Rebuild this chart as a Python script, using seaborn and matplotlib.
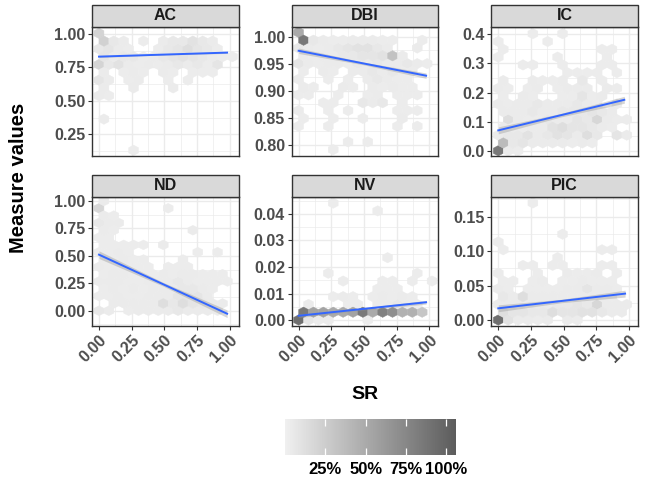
import numpy as np
import pandas as pd
import matplotlib
matplotlib.use("Agg")
import matplotlib.pyplot as plt
from matplotlib.colors import LinearSegmentedColormap, Normalize
from matplotlib.cm import ScalarMappable
from matplotlib.patches import Rectangle
from matplotlib.ticker import FixedLocator, FormatStrFormatter
import seaborn as sns

# ---------------------------------------------------------------------------
# Hexagon cells per measure: one entry per lattice row (row value), the SR
# centres of the occupied cells in that row and their share of the maximum count
# ---------------------------------------------------------------------------
measures = ["AC", "DBI", "IC", "ND", "NV", "PIC"]

ac_row_y = [1.005, 0.947, 0.889, 0.830, 0.772, 0.714, 0.656, 0.598, 0.539, 0.365, 0.132]
ac_row_x = [
    [0.0],
    [0.038, 0.113, 0.189, 0.340, 0.491, 0.567, 0.643, 0.718, 0.794, 0.870],
    [0.0, 0.076, 0.151, 0.227, 0.454, 0.529, 0.605, 0.680, 0.756, 0.832, 0.907],
    [0.038, 0.113, 0.189, 0.265, 0.340, 0.416, 0.491, 0.567, 0.643, 0.718, 0.794, 0.870, 0.945, 1.021],
    [0.0, 0.076, 0.151, 0.227, 0.302, 0.378, 0.454, 0.529, 0.605, 0.680, 0.756, 0.832, 0.907],
    [0.038, 0.189, 0.265, 0.340, 0.491, 0.567, 0.718, 0.794, 0.870],
    [0.0, 0.076, 0.227, 0.302, 0.529, 0.680],
    [0.038, 0.265, 0.567],
    [0.0, 0.076],
    [0.038],
    [0.265],
]
ac_row_v = [
    [0.20],
    [0.22, 0.06, 0.04, 0.03, 0.04, 0.06, 0.06, 0.10, 0.06, 0.04],
    [0.06, 0.08, 0.04, 0.03, 0.03, 0.06, 0.08, 0.13, 0.08, 0.06, 0.03],
    [0.08, 0.04, 0.06, 0.06, 0.03, 0.04, 0.06, 0.08, 0.10, 0.08, 0.06, 0.04, 0.03, 0.03],
    [0.20, 0.06, 0.10, 0.04, 0.03, 0.04, 0.03, 0.04, 0.06, 0.04, 0.06, 0.03, 0.08],
    [0.04, 0.03, 0.04, 0.03, 0.04, 0.03, 0.03, 0.03, 0.03],
    [0.08, 0.04, 0.03, 0.04, 0.03, 0.03],
    [0.04, 0.04, 0.04],
    [0.04, 0.03],
    [0.04],
    [0.03],
]

dbi_row_y = [1.008, 0.994, 0.979, 0.965, 0.950, 0.936, 0.921, 0.907, 0.892, 0.878,
             0.864, 0.849, 0.835, 0.806, 0.791]
dbi_row_x = [
    [0.0],
    [0.038, 0.113, 0.189, 0.265, 0.340, 0.416, 0.491, 0.567, 0.643, 0.718, 0.945],
    [0.0, 0.076, 0.151, 0.227, 0.302, 0.378, 0.454, 0.529, 0.605, 0.680, 0.907],
    [0.038, 0.113, 0.189, 0.265, 0.340, 0.416, 0.491, 0.567, 0.643, 0.718, 0.794],
    [0.0, 0.076, 0.151, 0.227, 0.302, 0.378, 0.454, 0.529, 0.605, 0.680, 0.756, 0.832, 0.907, 0.983],
    [0.038, 0.189, 0.265, 0.416, 0.491, 0.567, 0.643, 0.718, 0.794, 0.870],
    [0.0, 0.227, 0.378, 0.529, 0.605, 0.680, 0.756, 0.832],
    [0.038, 0.113, 0.340, 0.416, 0.567, 0.643, 0.718, 0.794, 0.870],
    [0.0, 0.076, 0.302, 0.529, 0.605, 0.756, 0.832, 0.907],
    [0.189, 0.265, 0.491, 0.567, 0.643, 0.794],
    [0.0, 0.227, 0.378, 0.756, 0.832, 0.907],
    [0.038, 0.265, 0.491, 0.794],
    [0.0, 0.227, 0.756, 0.907],
    [0.378, 0.529],
    [0.265],
]
dbi_row_v = [
    [0.50],
    [0.86, 0.06, 0.04, 0.03, 0.03, 0.04, 0.04, 0.04, 0.03, 0.03, 0.03],
    [0.06, 0.04, 0.03, 0.04, 0.06, 0.08, 0.10, 0.10, 0.06, 0.04, 0.04],
    [0.04, 0.03, 0.04, 0.04, 0.06, 0.06, 0.08, 0.08, 0.10, 0.33, 0.04],
    [0.08, 0.04, 0.03, 0.04, 0.04, 0.03, 0.06, 0.04, 0.06, 0.04, 0.04, 0.06, 0.04, 0.03],
    [0.03, 0.04, 0.03, 0.04, 0.04, 0.06, 0.04, 0.06, 0.03, 0.03],
    [0.04, 0.03, 0.03, 0.04, 0.06, 0.04, 0.03, 0.03],
    [0.04, 0.03, 0.04, 0.03, 0.04, 0.03, 0.04, 0.03, 0.03],
    [0.03, 0.03, 0.03, 0.03, 0.04, 0.03, 0.03, 0.03],
    [0.03, 0.03, 0.06, 0.04, 0.06, 0.03],
    [0.04, 0.03, 0.03, 0.03, 0.03, 0.03],
    [0.03, 0.03, 0.03, 0.04],
    [0.03, 0.03, 0.03, 0.03],
    [0.03, 0.03],
    [0.03],
]

ic_row_y = [0.0, 0.027, 0.054, 0.080, 0.107, 0.134, 0.161, 0.188, 0.214, 0.241,
            0.268, 0.295, 0.322, 0.348, 0.375, 0.402]
ic_row_x = [
    [0.0, 0.076, 0.151],
    [0.038, 0.113, 0.189, 0.265, 0.340, 0.416, 0.491, 0.567, 0.643, 0.718],
    [0.0, 0.076, 0.151, 0.227, 0.302, 0.378, 0.454, 0.529, 0.605, 0.680, 0.756, 0.907, 0.983],
    [0.038, 0.113, 0.189, 0.265, 0.340, 0.416, 0.491, 0.567, 0.643, 0.718, 0.794, 0.870],
    [0.076, 0.151, 0.227, 0.302, 0.378, 0.454, 0.529, 0.605, 0.680, 0.756, 0.832, 0.907, 0.983],
    [0.038, 0.113, 0.189, 0.265, 0.340, 0.416, 0.491, 0.567, 0.643, 0.718, 0.794, 0.870],
    [0.0, 0.076, 0.151, 0.227, 0.302, 0.378, 0.454, 0.529, 0.605, 0.680, 0.756, 0.907],
    [0.038, 0.189, 0.265, 0.491, 0.567, 0.643, 0.718, 0.794],
    [0.0, 0.076, 0.227, 0.302, 0.454, 0.529, 0.605, 0.680, 0.832, 0.907],
    [0.038, 0.265, 0.340, 0.416, 0.491, 0.643, 0.794],
    [0.529, 0.605, 0.680, 0.756, 0.907],
    [0.189, 0.265, 0.491, 0.794, 0.870],
    [0.0, 0.454, 0.832],
    [0.038, 0.794, 0.870],
    [0.0, 0.378],
    [0.265, 0.491],
]
ic_row_v = [
    [0.85, 0.04, 0.03],
    [0.38, 0.06, 0.08, 0.04, 0.04, 0.04, 0.04, 0.03, 0.04, 0.03],
    [0.04, 0.06, 0.06, 0.10, 0.04, 0.06, 0.10, 0.08, 0.04, 0.13, 0.06, 0.08, 0.04],
    [0.04, 0.04, 0.03, 0.04, 0.04, 0.10, 0.13, 0.08, 0.08, 0.06, 0.04, 0.03],
    [0.13, 0.04, 0.03, 0.03, 0.06, 0.04, 0.04, 0.08, 0.06, 0.18, 0.04, 0.03, 0.03],
    [0.04, 0.04, 0.04, 0.06, 0.04, 0.04, 0.06, 0.06, 0.06, 0.08, 0.06, 0.04],
    [0.04, 0.03, 0.04, 0.04, 0.06, 0.04, 0.04, 0.04, 0.06, 0.04, 0.03, 0.03],
    [0.03, 0.04, 0.03, 0.03, 0.03, 0.08, 0.03, 0.04],
    [0.04, 0.03, 0.03, 0.04, 0.03, 0.04, 0.04, 0.04, 0.04, 0.03],
    [0.04, 0.04, 0.03, 0.03, 0.04, 0.06, 0.03],
    [0.03, 0.03, 0.03, 0.03, 0.03],
    [0.03, 0.03, 0.03, 0.03, 0.03],
    [0.03, 0.03, 0.03],
    [0.03, 0.03, 0.03],
    [0.03, 0.03],
    [0.03, 0.03],
]

nd_row_y = [0.0, 0.067, 0.133, 0.200, 0.267, 0.333, 0.400, 0.467, 0.533, 0.600,
            0.667, 0.733, 0.800, 0.867, 0.933, 1.000]
nd_row_x = [
    [0.0, 0.076, 0.227, 0.302, 0.378, 0.454, 0.529, 0.605, 0.680, 0.756, 0.832, 0.907],
    [0.113, 0.189, 0.265, 0.340, 0.416, 0.491, 0.567, 0.643, 0.718, 0.794, 0.870, 0.945],
    [0.0, 0.076, 0.151, 0.227, 0.302, 0.378, 0.454, 0.529, 0.605, 0.680, 0.756, 0.832],
    [0.038, 0.113, 0.189, 0.265, 0.340, 0.416, 0.491, 0.567, 0.643, 0.718, 0.794, 0.870],
    [0.0, 0.076, 0.151, 0.227, 0.302, 0.378, 0.454, 0.529, 0.605, 0.680, 0.756, 0.832, 0.907, 0.983],
    [0.038, 0.113, 0.189, 0.265, 0.340, 0.416, 0.491, 0.567, 0.643, 0.718, 0.794, 0.870, 0.945],
    [0.0, 0.076, 0.151, 0.227, 0.302, 0.378, 0.529, 0.605, 0.680],
    [0.038, 0.113, 0.189, 0.265, 0.340, 0.643],
    [0.0, 0.076, 0.151, 0.227, 0.756, 0.907],
    [0.038, 0.113, 0.189, 0.265, 0.340, 0.491],
    [0.0, 0.076],
    [0.038, 0.113, 0.718],
    [0.0, 0.076, 0.151],
    [0.038, 0.113],
    [0.0, 0.529],
    [0.038],
]
nd_row_v = [
    [0.06, 0.04, 0.03, 0.04, 0.04, 0.04, 0.04, 0.06, 0.04, 0.04, 0.04, 0.03],
    [0.04, 0.04, 0.04, 0.04, 0.04, 0.13, 0.06, 0.13, 0.08, 0.06, 0.04, 0.04],
    [0.03, 0.03, 0.04, 0.03, 0.03, 0.04, 0.04, 0.04, 0.08, 0.08, 0.08, 0.04],
    [0.03, 0.04, 0.03, 0.04, 0.03, 0.04, 0.04, 0.04, 0.06, 0.06, 0.04, 0.03],
    [0.04, 0.04, 0.04, 0.03, 0.03, 0.04, 0.04, 0.04, 0.06, 0.04, 0.03, 0.03, 0.03, 0.03],
    [0.03, 0.04, 0.04, 0.03, 0.03, 0.03, 0.04, 0.03, 0.04, 0.04, 0.03, 0.03, 0.03],
    [0.04, 0.03, 0.03, 0.03, 0.03, 0.03, 0.03, 0.03, 0.03],
    [0.03, 0.03, 0.04, 0.03, 0.03, 0.03],
    [0.03, 0.03, 0.04, 0.03, 0.03, 0.03],
    [0.03, 0.03, 0.03, 0.03, 0.03, 0.04],
    [0.03, 0.03],
    [0.04, 0.03, 0.04],
    [0.06, 0.04, 0.04],
    [0.04, 0.03],
    [0.18, 0.03],
    [0.04],
]

nv_row_y = [0.0, 0.00294, 0.00588, 0.00882, 0.01176, 0.01470, 0.01764, 0.02352, 0.04116, 0.04410]
nv_row_x = [
    [0.0, 0.076, 0.151, 0.227, 0.529],
    [0.038, 0.113, 0.189, 0.265, 0.340, 0.416, 0.491, 0.567, 0.643, 0.718, 0.794, 0.870, 0.945],
    [0.076, 0.378, 0.454, 0.605, 0.680, 0.756, 0.832, 0.907],
    [0.265, 0.340, 0.416, 0.567, 0.643, 0.718, 0.794, 0.870],
    [0.605, 0.680, 0.756],
    [0.340, 0.643, 0.718, 0.870, 1.021],
    [0.227, 0.907],
    [0.680],
    [0.605],
    [0.265],
]
nv_row_v = [
    [0.92, 0.08, 0.04, 0.04, 0.03],
    [0.85, 0.55, 0.55, 0.50, 0.50, 0.55, 0.85, 0.50, 0.80, 0.70, 0.45, 0.45, 0.30],
    [0.04, 0.03, 0.03, 0.04, 0.04, 0.06, 0.04, 0.03],
    [0.03, 0.04, 0.03, 0.03, 0.04, 0.03, 0.04, 0.03],
    [0.03, 0.03, 0.03],
    [0.03, 0.03, 0.03, 0.03, 0.03],
    [0.03, 0.03],
    [0.03],
    [0.03],
    [0.03],
]

pic_row_y = [0.0, 0.0113, 0.0227, 0.0340, 0.0453, 0.0567, 0.0680, 0.0793, 0.0906,
             0.1020, 0.1133, 0.1246, 0.1700]
pic_row_x = [
    [0.0, 0.076, 0.151, 0.227, 0.302, 0.378, 0.529, 0.605],
    [0.038, 0.113, 0.189, 0.265, 0.340, 0.416, 0.491, 0.567, 0.643, 0.718, 0.794, 0.870, 0.945],
    [0.0, 0.076, 0.151, 0.227, 0.302, 0.378, 0.454, 0.529, 0.605, 0.680, 0.756, 0.832, 0.907, 0.983],
    [0.038, 0.113, 0.189, 0.265, 0.340, 0.416, 0.491, 0.567, 0.643, 0.718, 0.794, 0.870],
    [0.0, 0.076, 0.227, 0.302, 0.378, 0.454, 0.529, 0.605, 0.680, 0.756, 0.832, 0.907],
    [0.038, 0.113, 0.265, 0.340, 0.491, 0.567, 0.643, 0.718, 0.794, 0.870],
    [0.0, 0.302, 0.529, 0.605, 0.680, 0.756, 0.907],
    [0.189, 0.265, 0.416, 0.491, 0.794, 0.870],
    [0.454],
    [0.038, 0.794, 0.870],
    [0.0],
    [0.491],
    [0.265],
]
pic_row_v = [
    [0.92, 0.10, 0.04, 0.04, 0.03, 0.04, 0.04, 0.03],
    [0.13, 0.08, 0.08, 0.06, 0.06, 0.13, 0.08, 0.08, 0.10, 0.10, 0.06, 0.04, 0.04],
    [0.04, 0.04, 0.04, 0.03, 0.04, 0.04, 0.06, 0.06, 0.08, 0.06, 0.18, 0.04, 0.04, 0.04],
    [0.06, 0.04, 0.13, 0.04, 0.04, 0.04, 0.04, 0.04, 0.04, 0.04, 0.04, 0.03],
    [0.04, 0.03, 0.03, 0.03, 0.03, 0.03, 0.04, 0.04, 0.08, 0.04, 0.04, 0.03],
    [0.03, 0.03, 0.03, 0.04, 0.03, 0.03, 0.04, 0.03, 0.03, 0.03],
    [0.04, 0.03, 0.04, 0.03, 0.03, 0.04, 0.03],
    [0.03, 0.03, 0.03, 0.03, 0.03, 0.03],
    [0.03],
    [0.03, 0.03, 0.03],
    [0.04],
    [0.03],
    [0.03],
]

# Linear fits: ends of the fitted line and half-width of the 95% band
fit_measure = ["AC", "DBI", "IC", "ND", "NV", "PIC"]
fit_x_start = [0.0, 0.0, 0.0, 0.0, 0.0, 0.0]
fit_x_end = [0.980, 0.975, 0.964, 0.980, 0.975, 0.970]
fit_y_start = [0.831, 0.974, 0.070, 0.511, 0.0016, 0.017]
fit_y_end = [0.861, 0.928, 0.175, -0.027, 0.0067, 0.0383]
fit_band_end = [0.006, 0.005, 0.012, 0.035, 0.0007, 0.005]
fit_band_mid = [0.003, 0.0025, 0.006, 0.017, 0.0004, 0.0025]

x_ticks = [0.0, 0.25, 0.50, 0.75, 1.00]
y_ticks = {
    "AC": [0.25, 0.50, 0.75, 1.00],
    "DBI": [0.80, 0.85, 0.90, 0.95, 1.00],
    "IC": [0.0, 0.1, 0.2, 0.3, 0.4],
    "ND": [0.00, 0.25, 0.50, 0.75, 1.00],
    "NV": [0.00, 0.01, 0.02, 0.03, 0.04],
    "PIC": [0.00, 0.05, 0.10, 0.15],
}
y_format = {"AC": "%.2f", "DBI": "%.2f", "IC": "%.1f", "ND": "%.2f", "NV": "%.2f", "PIC": "%.2f"}
legend_ticks = [0.25, 0.50, 0.75, 1.00]
legend_labels = ["25%", "50%", "75%", "100%"]

# ---------------------------------------------------------------------------
# Panel geometry (axis ranges and hexagon lattice spacing)
# ---------------------------------------------------------------------------
x_limits = (-0.0534, 1.0687)
y_limits = {
    "AC": (0.0896, 1.052),
    "DBI": (0.7797, 1.0179),
    "IC": (-0.018, 0.425),
    "ND": (-0.139, 1.0365),
    "NV": (-0.00226, 0.0464),
    "PIC": (-0.0087, 0.1786),
}
hex_dx = 0.0756
row_step = {"AC": 0.0582, "DBI": 0.01444, "IC": 0.0268, "ND": 0.0667, "NV": 0.00294, "PIC": 0.01133}
row_origin = {"AC": 1.005, "DBI": 1.008, "IC": 0.0, "ND": 0.0, "NV": 0.0, "PIC": 0.0}


def collect(name, rows_y, rows_x, rows_v):
    recs = []
    for y, xs, vs in zip(rows_y, rows_x, rows_v):
        for x, v in zip(xs, vs):
            recs.append({"measure": name, "SR": x, "value": y, "share": v})
    return recs


hexes = pd.DataFrame(
    collect("AC", ac_row_y, ac_row_x, ac_row_v)
    + collect("DBI", dbi_row_y, dbi_row_x, dbi_row_v)
    + collect("IC", ic_row_y, ic_row_x, ic_row_v)
    + collect("ND", nd_row_y, nd_row_x, nd_row_v)
    + collect("NV", nv_row_y, nv_row_x, nv_row_v)
    + collect("PIC", pic_row_y, pic_row_x, pic_row_v)
)
fits = pd.DataFrame({
    "measure": fit_measure, "x0": fit_x_start, "x1": fit_x_end,
    "y0": fit_y_start, "y1": fit_y_end, "hw_end": fit_band_end, "hw_mid": fit_band_mid,
}).set_index("measure")

plt.rcParams.update({
    "font.family": ["Liberation Sans", "DejaVu Sans"],
    "font.weight": "bold",
    "axes.labelweight": "bold",
})

cmap = LinearSegmentedColormap.from_list("share", ["#F0F0F0", "#5C5C5C"])
norm = Normalize(0.0, 1.06)


def hex_layer(data, **kws):
    ax = plt.gca()
    name = data["measure"].iloc[0]
    sy = 2 * row_step[name]
    lo, hi = y_limits[name]
    y0 = row_origin[name]
    n_below = int(np.ceil((y0 - lo) / sy)) + 1
    ymin = y0 - n_below * sy
    ny = int(np.ceil((hi - ymin) / sy)) + 1
    xmin = -2 * hex_dx
    nx = 18
    ax.hexbin(data["SR"], data["value"], C=data["share"], reduce_C_function=np.max,
              gridsize=(nx, ny), extent=(xmin, xmin + nx * hex_dx, ymin, ymin + ny * sy),
              cmap=cmap, norm=norm, mincnt=1, linewidths=0.3, edgecolors="face", zorder=1)


g = sns.FacetGrid(hexes, col="measure", col_order=measures, col_wrap=3,
                  sharex=True, sharey=False, despine=False, height=2.4, aspect=0.9)
g.map_dataframe(hex_layer)
g.set_titles("")
g.set_axis_labels("", "")

fig = g.figure
fig.set_size_inches(6.46, 4.83)
fig.subplots_adjust(left=92 / 646, right=638 / 646, bottom=1 - 326 / 483, top=1 - 27 / 483,
                    wspace=0.361, hspace=0.318)

line_blue = "#3366FF"
tick_grey = "#4D4D4D"
frame = "#333333"
strip_h = 22.5 / 129

for name, ax in g.axes_dict.items():
    f = fits.loc[name]
    xb = np.array([f.x0, (f.x0 + f.x1) / 2, f.x1])
    yb = np.array([f.y0, (f.y0 + f.y1) / 2, f.y1])
    hw = np.array([f.hw_end, f.hw_mid, f.hw_end])
    ax.fill_between(xb, yb - hw, yb + hw, color="#999999", alpha=0.4, lw=0, zorder=2)
    sns.lineplot(x=[f.x0, f.x1], y=[f.y0, f.y1], ax=ax, color=line_blue, linewidth=1.4, zorder=3)

    ax.set_xlim(*x_limits)
    ax.set_ylim(*y_limits[name])
    ax.set_facecolor("white")

    yt = y_ticks[name]
    step = yt[1] - yt[0]
    lo, hi = y_limits[name]
    yminor = [t + step / 2 for t in [yt[0] - step] + yt]
    yminor = [t for t in yminor if lo < t < hi]
    ax.yaxis.set_major_locator(FixedLocator(yt))
    ax.yaxis.set_minor_locator(FixedLocator(yminor))
    ax.yaxis.set_major_formatter(FormatStrFormatter(y_format[name]))
    ax.xaxis.set_major_locator(FixedLocator(x_ticks))
    ax.xaxis.set_minor_locator(FixedLocator([0.125, 0.375, 0.625, 0.875]))
    ax.xaxis.set_major_formatter(FormatStrFormatter("%.2f"))

    ax.set_axisbelow(True)
    ax.grid(True, which="major", color="#EBEBEB", linewidth=1.0)
    ax.grid(True, which="minor", color="#EBEBEB", linewidth=0.5)
    for sp in ax.spines.values():
        sp.set_color(frame)
        sp.set_linewidth(1.0)
        sp.set_visible(True)

    ax.tick_params(axis="both", which="major", length=3.2, width=0.8, color=frame,
                   labelsize=11.5, labelcolor=tick_grey, pad=1.5)
    ax.tick_params(axis="both", which="minor", length=0)
    ax.set_xlabel("")
    ax.set_ylabel("")

    # facet strip
    ax.add_patch(Rectangle((0, 1), 1, strip_h, transform=ax.transAxes, clip_on=False,
                           facecolor="#D9D9D9", edgecolor=frame, linewidth=1.0, zorder=5))
    ax.text(0.5, 1 + strip_h / 2, name, transform=ax.transAxes, ha="center", va="center",
            fontsize=11.5, fontweight="bold", color="#1A1A1A", zorder=6)

bottom_names = ["ND", "NV", "PIC"]
for name, ax in g.axes_dict.items():
    if name in bottom_names:
        for lbl in ax.get_xticklabels():
            lbl.set_rotation(45)
            lbl.set_ha("right")
            lbl.set_va("top")
            lbl.set_rotation_mode("anchor")
            lbl.set_visible(True)
    else:
        ax.tick_params(axis="x", which="both", bottom=False, labelbottom=False)

fig.text(19 / 646, 1 - 177.5 / 483, "Measure values", rotation=90, ha="center", va="center",
         fontsize=14.5, fontweight="bold", color="black")
fig.text(365 / 646, 1 - 394.5 / 483, "SR", ha="center", va="center",
         fontsize=14, fontweight="bold", color="black")

# fill-share legend bar
cax = fig.add_axes([285 / 646, 1 - 455 / 483, 171 / 646, 36 / 483])
cb = fig.colorbar(ScalarMappable(norm=norm, cmap=cmap), cax=cax, orientation="horizontal")
cb.outline.set_visible(False)
cb.set_ticks(legend_ticks)
cb.set_ticklabels(legend_labels)
cax.tick_params(axis="x", which="both", direction="in", length=5.0, width=0.9, color="white",
                top=True, bottom=True, labelsize=12, labelcolor="black", pad=5)
cax.minorticks_off()

fig.savefig("out.png", dpi=100, facecolor="white")
